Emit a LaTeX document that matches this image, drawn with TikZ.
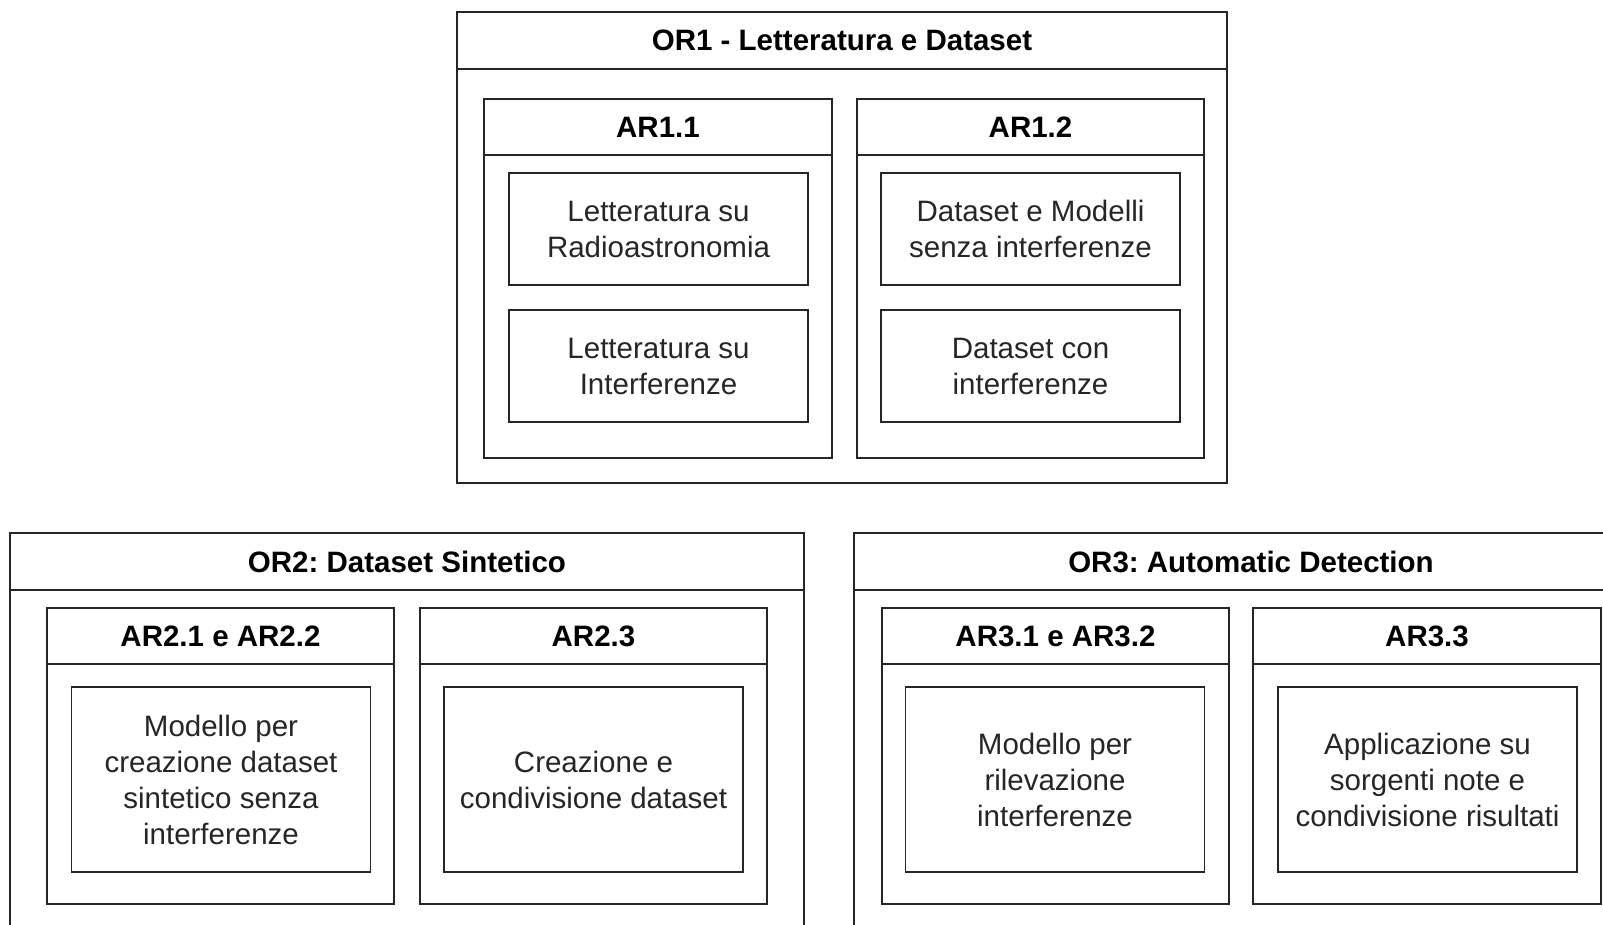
\documentclass[tikz,border=0pt]{standalone}
\usepackage{fontspec}
\setmainfont{Liberation Sans}
\frenchspacing
\begin{document}
\begin{tikzpicture}[x=1pt,y=-1pt,
  frame/.style={draw=black!85, line width=1.6pt, fill=white, inner sep=0pt, outer sep=0pt, anchor=north west},
  hdr/.style={frame, font=\bfseries\fontsize{29.5}{36}\selectfont\frenchspacing, text=black},
  body/.style={frame},
  item/.style={draw=black!85, line width=1.6pt, fill=white, inner sep=0pt, outer sep=0pt,
    align=center, font=\fontsize{29.5}{36}\selectfont\frenchspacing, text=black!85,
    minimum width=299pt},
]
\clip (0,0) rectangle (1603,924);
\fill[white] (0,0) rectangle (1603,924);

% ---------- OR1 ----------
\node[hdr, minimum width=770pt, minimum height=57pt] (or1h) at (457,12) {OR1 - Letteratura e Dataset};
\node[body, minimum width=770pt, minimum height=414pt] (or1b) at (or1h.south west) {};

\node[hdr, minimum width=348pt, minimum height=56pt] (ar11h) at (484,99) {AR1.1};
\node[body, minimum width=348pt, minimum height=303pt] (ar11b) at (ar11h.south west) {};
\node[item, minimum height=112pt] (lrad) at (658.5,229) {Letteratura su\\Radioastronomia};
\node[item, minimum height=112pt] (lint) at (658.5,366) {Letteratura su\\Interferenze};

\node[hdr, minimum width=347pt, minimum height=56pt] (ar12h) at (857,99) {AR1.2};
\node[body, minimum width=347pt, minimum height=303pt] (ar12b) at (ar12h.south west) {};
\node[item, minimum height=112pt] (dsen) at (1030.5,229) {Dataset e Modelli\\senza interferenze};
\node[item, minimum height=112pt] (dcon) at (1030.5,366) {Dataset con\\interferenze};

% ---------- OR2 ----------
\node[hdr, minimum width=794pt, minimum height=57pt] (or2h) at (10,533) {OR2: Dataset Sintetico};
\node[body, minimum width=794pt, minimum height=420pt] (or2b) at (or2h.south west) {};

\node[hdr, minimum width=347pt, minimum height=56pt] (ar21h) at (47,608) {AR2.1 e AR2.2};
\node[body, minimum width=347pt, minimum height=240pt] (ar21b) at (ar21h.south west) {};
\node[item, minimum height=185pt] (msin) at (221,779.5) {Modello per\\creazione dataset\\sintetico senza\\interferenze};

\node[hdr, minimum width=347pt, minimum height=56pt] (ar23h) at (420,608) {AR2.3};
\node[body, minimum width=347pt, minimum height=240pt] (ar23b) at (ar23h.south west) {};
\node[item, minimum height=185pt] (cds) at (593.5,779.5) {Creazione e\\condivisione dataset};

% ---------- OR3 ----------
\node[hdr, minimum width=794pt, minimum height=57pt] (or3h) at (854,533) {OR3: Automatic Detection};
\node[body, minimum width=794pt, minimum height=420pt] (or3b) at (or3h.south west) {};

\node[hdr, minimum width=347pt, minimum height=56pt] (ar31h) at (882,608) {AR3.1 e AR3.2};
\node[body, minimum width=347pt, minimum height=240pt] (ar31b) at (ar31h.south west) {};
\node[item, minimum height=185pt] (mril) at (1055,779.5) {Modello per\\rilevazione\\interferenze};

\node[hdr, minimum width=348pt, minimum height=56pt] (ar33h) at (1253,608) {AR3.3};
\node[body, minimum width=348pt, minimum height=240pt] (ar33b) at (ar33h.south west) {};
\node[item, minimum height=185pt] (appl) at (1427.5,779.5) {Applicazione su\\sorgenti note e\\condivisione risultati};
\end{tikzpicture}
\end{document}
